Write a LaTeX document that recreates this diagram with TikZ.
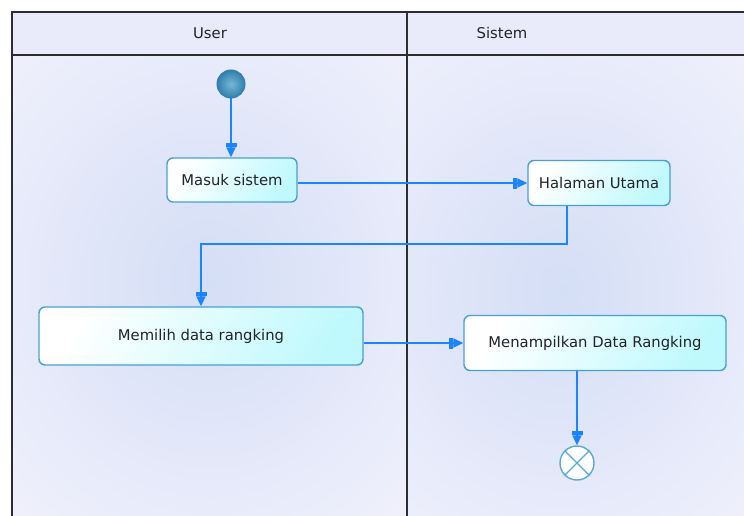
\documentclass[tikz,border=0pt]{standalone}
\usepackage{fontspec}
\setmainfont{DejaVu Sans}
\usetikzlibrary{arrows.meta,calc}

\definecolor{laneedge}{RGB}{241,241,252}
\definecolor{lanemid}{RGB}{212,222,246}
\definecolor{headfill}{RGB}{233,235,251}
\definecolor{frameline}{RGB}{45,45,50}
\definecolor{boxline}{RGB}{72,160,212}
\definecolor{boxfill}{RGB}{192,249,253}
\definecolor{flow}{RGB}{28,132,255}
\definecolor{startin}{RGB}{120,182,215}
\definecolor{startout}{RGB}{48,128,172}
\definecolor{endline}{RGB}{88,170,212}
\definecolor{txt}{RGB}{35,35,40}

\tikzset{
  x=1pt, y=-1pt,
  lbl/.style={font=\fontsize{14.8}{17}\selectfont, text=txt},
  action/.style={draw=boxline, line width=1.4pt, rounded corners=6pt,
    left color=white, right color=boxfill, shading angle=60,
    lbl, inner sep=0pt, align=center},
  startnode/.style={circle, draw=startout, line width=1pt, minimum size=28pt,
    inner sep=0pt, inner color=startin, outer color=startout},
  endnode/.style={circle, draw=endline, line width=1.4pt, fill=white,
    minimum size=34pt, inner sep=0pt,
    append after command={
      \pgfextra{\let\endnm\tikzlastnode}
      (\endnm.north east) edge[draw=endline, line width=1.2pt] (\endnm.south west)
      (\endnm.north west) edge[draw=endline, line width=1.2pt] (\endnm.south east)
    }},
  flowline/.style={draw=flow, line width=1.8pt,
    -{Rectangle[length=4pt,width=11pt] Triangle[length=10pt,width=9pt]}},
}

\begin{document}
\begin{tikzpicture}
\useasboundingbox (0,0) rectangle (744,516);
\fill[white] (0,0) rectangle (744,516);

% swimlane bodies with soft centre shading
\begin{scope}
  \clip (12,55) rectangle (407,516);
  \shade[inner color=lanemid, outer color=laneedge] (209,280) ellipse (300 and 330);
\end{scope}
\begin{scope}
  \clip (407,55) rectangle (744,516);
  \shade[inner color=lanemid, outer color=laneedge] (560,290) ellipse (290 and 330);
\end{scope}

% lane headers
\fill[headfill] (12,12) rectangle (744,55);
\draw[frameline, line width=1.4pt] (12,516) -- (12,12) -- (744,12);
\draw[frameline, line width=1.2pt] (12,55) -- (744,55);
\draw[frameline, line width=1.2pt] (407,12) -- (407,516);
\node[lbl] (hUser) at (210,33) {User};
\node[lbl] (hSistem) at (502,33) {Sistem};

% activities
\node[startnode] (start) at (231,84) {};
\node[action, minimum width=130pt, minimum height=44pt] (masuk) at (232,180) {Masuk sistem};
\node[action, minimum width=142pt, minimum height=45pt] (halaman) at (599,183) {Halaman Utama};
\node[action, minimum width=324pt, minimum height=58pt] (memilih) at (201,336) {Memilih data rangking};
\node[action, minimum width=262pt, minimum height=55pt] (tampil) at (595,343) {Menampilkan Data Rangking};
\node[endnode] (end) at (577,463) {};

% control flow
\draw[flowline] (start.south) -- (start.south |- masuk.north);
\draw[flowline] (masuk.east |- halaman.west) -- (halaman.west);
\coordinate (hdrop) at ($(halaman.south)+(-32,0)$);
\draw[flowline] (hdrop) -- ++(0,38) -| (memilih.north);
\draw[flowline] (memilih.east |- tampil.west) -- (tampil.west);
\draw[flowline] (end.north |- tampil.south) -- (end.north);
\end{tikzpicture}
\end{document}
